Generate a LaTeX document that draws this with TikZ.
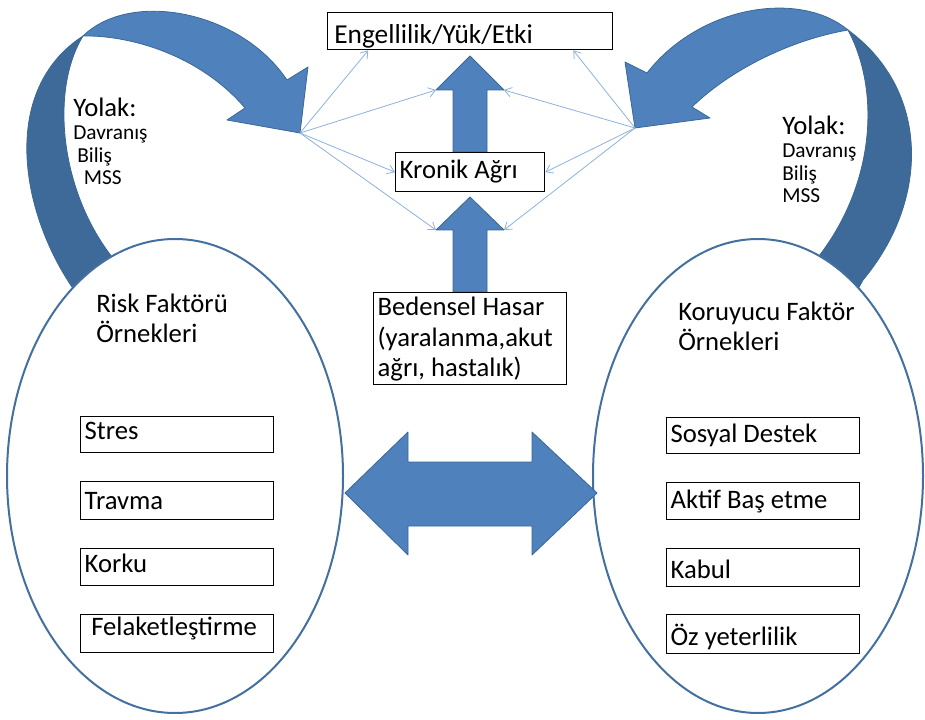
\documentclass[tikz,border=0pt]{standalone}
\usepackage{fontspec}
\setmainfont{Carlito}
\usetikzlibrary{shapes.geometric,arrows.meta,calc}
\definecolor{ribbon}{HTML}{4F81BD}
\definecolor{ribbondark}{HTML}{3E6A9A}
\definecolor{ribbonline}{HTML}{3A6796}
\definecolor{fanline}{HTML}{8EB1DC}
\definecolor{ovalline}{HTML}{44709F}
\begin{document}
\begin{tikzpicture}[x=0.75pt, y=-0.75pt,
    box/.style={rectangle, draw, fill=white, line width=1pt, align=flush left, inner xsep=3pt, inner ysep=0pt, font=\fontsize{20}{23}\selectfont},
    item/.style={box, anchor=north west, text width=138.75pt, text height=18pt, text depth=9.5pt},
    oval/.style={ellipse, draw=ovalline, line width=1.5pt, fill=white, minimum height=355.5pt},
    blockarrow/.style={fill=ribbon, draw=ribbonline, line width=0.6pt, line join=round},
    fan/.style={-{Straight Barb[length=5pt,width=7pt]}, draw=fanline, line width=0.6pt},
    headtext/.style={align=flush left, anchor=base west, inner sep=0pt, font=\fontsize{20}{22.5}\selectfont},
    yolaktext/.style={align=flush left, anchor=base west, inner sep=0pt, font=\fontsize{16}{17}\selectfont}
]
    \useasboundingbox (0,0) rectangle (925,720);

    % curved arrows (Yolak)
    \filldraw[fill=ribbondark, draw=ribbonline, line width=0.6pt] (83,36) .. controls (0,90) and (20,210) .. (72,287) -- (82,305) -- (125,272) -- (112,257) .. controls (60,190) and (50,90) .. (83,36) -- cycle;
    \filldraw[blockarrow] (83,36) .. controls (130,-10) and (240,10) .. (287,80) -- (308,67) -- (300,133) -- (227,120) -- (245,108) .. controls (200,55) and (130,35) .. (83,36) -- cycle;
    \filldraw[fill=ribbondark, draw=ribbonline, line width=0.6pt] (848,30) .. controls (930,90) and (930,200) .. (863,280) -- (853,298) -- (810,268) -- (822,252) .. controls (875,180) and (880,90) .. (848,30) -- cycle;
    \filldraw[blockarrow] (848,30) .. controls (800,-10) and (700,5) .. (647,73) -- (625,62) -- (635,128) -- (710,118) -- (692,107) .. controls (730,70) and (790,40) .. (848,30) -- cycle;

    % ovals
    \node[oval, minimum width=252pt] (risk) at (175,476) {};
    \node[oval, minimum width=247.5pt] (koruyucu) at (758,476) {};

    % block arrows
    \filldraw[blockarrow] (345,493) -- (408,432) -- (408,462) -- (532,462) -- (532,432) -- (597,493) -- (532,555) -- (532,526) -- (408,526) -- (408,555) -- cycle;
    \filldraw[blockarrow] (453,152) -- (453,90) -- (436,90) -- (470,56) -- (504,90) -- (487,90) -- (487,152) -- cycle;
    \filldraw[blockarrow] (453,292) -- (453,230) -- (436,230) -- (470,197) -- (504,230) -- (487,230) -- (487,292) -- cycle;
    \coordinate (tophead-l) at (436,90);
    \coordinate (tophead-r) at (504,90);
    \coordinate (bothead-l) at (436,230);
    \coordinate (bothead-r) at (504,230);

    % boxes
    \node[box, anchor=north west, text width=203.75pt, text height=23.25pt, text depth=4.5pt, inner xsep=5pt, font=\fontsize{20.5}{23}\selectfont] (eng) at (327,12) {Engellilik/Yük/Etki};
    \node[box, anchor=north west, text width=105.75pt, text height=19.5pt, text depth=9.75pt] (kronik) at (395,152) {Kronik Ağrı};
    \node[box, anchor=north west, text width=138.75pt, text height=17.25pt, text depth=51.75pt] (hasar) at (373,292) {Bedensel Hasar\\(yaralanma,akut\\ağrı, hastalık)};

    \node[item, text height=17.25pt, text depth=9.75pt] (stres) at (80,416) {Stres};
    \node[item, text height=21pt, text depth=7.5pt] (travma) at (80,481) {Travma};
    \node[item, text height=18pt, text depth=9.75pt] (korku) at (80,548) {Korku};
    \node[item, text height=15.75pt, text depth=12.75pt] (felaket) at (80,614) {\hspace*{5pt}Felaketleştirme};

    \node[item, text height=18.75pt, text depth=8.25pt] (destek) at (666,417) {Sosyal Destek};
    \node[item, text height=19.5pt, text depth=8.25pt] (basetme) at (666,482) {Aktif Baş etme};
    \node[item, text height=22.5pt, text depth=6pt] (kabul) at (666,548) {Kabul};
    \node[item, text height=23.25pt, text depth=6pt] (yeterlilik) at (666,614) {Öz yeterlilik};

    % fan of thin arrows
    \coordinate (lfan) at (300,133);
    \coordinate (rfan) at (635,128);
    \draw[fan] (lfan) -- ($(eng.south west)!0.144!(eng.south east)$);
    \draw[fan] (lfan) -- (tophead-l);
    \draw[fan] (lfan) -- (kronik.west);
    \draw[fan] (lfan) -- (bothead-l);
    \draw[fan] (rfan) -- ($(eng.south west)!0.86!(eng.south east)$);
    \draw[fan] (rfan) -- (tophead-r);
    \draw[fan] (rfan) -- (kronik.east);
    \draw[fan] (rfan) -- (bothead-r);

    % texts
    \node[headtext] (risktitle) at (96,343) {Risk Faktörü\\Örnekleri};
    \node[headtext] (korutitle) at (678,350) {Koruyucu Faktör\\Örnekleri};
    \node[yolaktext] (lyolak) at (73,185) {{\fontsize{20}{22.5}\selectfont Yolak:}\\Davranış\\\hspace*{3pt}Biliş\\\hspace*{8pt}MSS};
    \node[yolaktext] (ryolak) at (782,203) {{\fontsize{20}{22.5}\selectfont Yolak:}\\Davranış\\Biliş\\MSS};
\end{tikzpicture}
\end{document}
